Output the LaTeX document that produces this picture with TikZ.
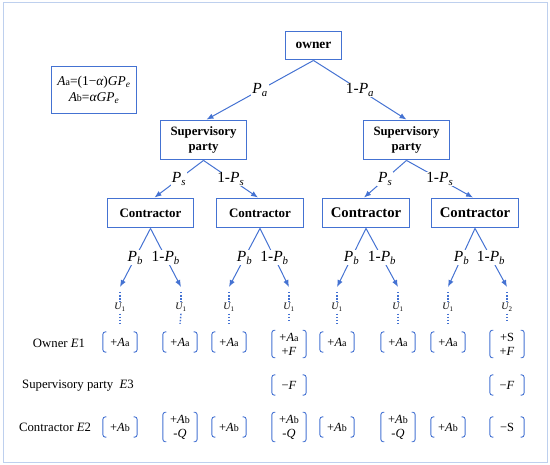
\documentclass[tikz,border=0pt]{standalone}
\usepackage{fontspec}
\setmainfont{Liberation Serif}
\usetikzlibrary{arrows.meta}
\definecolor{lineblue}{RGB}{68,114,210}
\definecolor{frameblue}{RGB}{190,208,238}
\tikzset{
 box/.style={draw=lineblue, line width=1pt, fill=white, inner sep=0pt, align=center, font=\bfseries\fontsize{12.8}{15}\selectfont},
 arr/.style={draw=lineblue, line width=1pt, -{Latex[length=7pt,width=5.5pt]}},
 lab/.style={fill=white, inner sep=1pt, font=\fontsize{15.5}{17}\selectfont},
 dots/.style={draw=lineblue, line width=1.4pt, dash pattern=on 1.5pt off 1.6pt},
 ulab/.style={font=\fontsize{10}{11}\selectfont, inner sep=0.5pt},
 vec/.style={inner xsep=2pt, inner ysep=2.5pt, minimum width=34pt, minimum height=20pt, align=center, font=\fontsize{12.5}{14}\selectfont},
 brk/.style={draw=lineblue, line width=0.9pt, rounded corners=2.5pt},
 rowlab/.style={font=\fontsize{12.8}{14}\selectfont},
}
\newcommand\Pl[1]{{\itshape P\textsubscript{#1}}}
\newcommand\Asub[1]{{\itshape A}{\fontsize{10}{11}\selectfont #1}}
\newcommand\vecnode[4]{%
 \node[vec] (#1) at (#2,#3) {#4};
 \draw[brk] ([xshift=3.5pt]#1.north west) -- (#1.north west) -- (#1.south west) -- ([xshift=3.5pt]#1.south west);
 \draw[brk] ([xshift=-3.5pt]#1.north east) -- (#1.north east) -- (#1.south east) -- ([xshift=-3.5pt]#1.south east);
}
\begin{document}
\begin{tikzpicture}[x=1bp,y=-1bp]
\useasboundingbox (0,0) rectangle (550,465);
\draw[frameblue, line width=1pt] (3,3) rectangle (547,462);

% info box
\node[box, minimum width=86pt, minimum height=48pt, font=\fontsize{13.5}{16}\selectfont] (info) at (94,90)
 {\Asub{a}=(1−{\itshape α}){\itshape GP}\textsubscript{\itshape e}\\ \Asub{b}={\itshape αGP}\textsubscript{\itshape e}};

% tree nodes
\node[box, minimum width=57pt, minimum height=29pt, font=\bfseries\fontsize{13.5}{15}\selectfont] (owner) at (313.5,45.5) {owner};
\node[box, minimum width=87pt, minimum height=40pt] (s1) at (203.5,140) {Supervisory\\party};
\node[box, minimum width=87pt, minimum height=40pt] (s2) at (406.5,140) {Supervisory\\party};
\node[box, minimum width=87pt, minimum height=30pt, font=\bfseries\fontsize{13}{14}\selectfont] (c1) at (150.5,213) {Contractor};
\node[box, minimum width=87pt, minimum height=30pt, font=\bfseries\fontsize{13}{14}\selectfont] (c2) at (260,213) {Contractor};
\node[box, minimum width=87pt, minimum height=30pt, font=\bfseries\fontsize{14.8}{16}\selectfont] (c3) at (366,213) {Contractor};
\node[box, minimum width=87pt, minimum height=30pt, font=\bfseries\fontsize{14.8}{16}\selectfont] (c4) at (475,213) {Contractor};

\draw[arr] (owner.south) -- node[lab]{\Pl{a}} ([xshift=3pt]s1.north);
\draw[arr] (owner.south) -- node[lab]{1-\Pl{a}} (s2.north);
\draw[arr] (s1.south) -- node[lab]{\Pl{s}} ([xshift=4pt]c1.north);
\draw[arr] (s1.south) -- node[lab]{1-\Pl{s}} ([xshift=-2pt]c2.north);
\draw[arr] (s2.south) -- node[lab]{\Pl{s}} ([xshift=-2pt]c3.north);
\draw[arr] (s2.south) -- node[lab]{1-\Pl{s}} ([xshift=-2pt]c4.north);

% leaf tips
\coordinate (t1) at (120,287);
\coordinate (t2) at (181,287);
\coordinate (t3) at (229,287);
\coordinate (t4) at (289,287);
\coordinate (t5) at (337,287);
\coordinate (t6) at (398,287);
\coordinate (t7) at (448,287);
\coordinate (t8) at (507,287);

\draw[arr] (c1.south) -- node[lab]{\Pl{b}} (t1);
\draw[arr] (c1.south) -- node[lab]{1-\Pl{b}} (t2);
\draw[arr] (c2.south) -- node[lab]{\Pl{b}} (t3);
\draw[arr] (c2.south) -- node[lab]{1-\Pl{b}} (t4);
\draw[arr] (c3.south) -- node[lab]{\Pl{b}} (t5);
\draw[arr] (c3.south) -- node[lab]{1-\Pl{b}} (t6);
\draw[arr] (c4.south) -- node[lab]{\Pl{b}} (t7);
\draw[arr] (c4.south) -- node[lab]{1-\Pl{b}} (t8);

% U labels
\node[ulab] (u1) at (120,307) {{\itshape U}\textsubscript{1}};
\node[ulab] (u2) at (181,307) {{\itshape U}\textsubscript{1}};
\node[ulab] (u3) at (229,307) {{\itshape U}\textsubscript{1}};
\node[ulab] (u4) at (289,307) {{\itshape U}\textsubscript{1}};
\node[ulab] (u5) at (337,307) {{\itshape U}\textsubscript{1}};
\node[ulab] (u6) at (398,307) {{\itshape U}\textsubscript{1}};
\node[ulab] (u7) at (448,307) {{\itshape U}\textsubscript{1}};
\node[ulab] (u8) at (507,307) {{\itshape U}\textsubscript{2}};

% row labels
\node[rowlab] (r1) at (59,343) {Owner {\itshape E}1};
\node[rowlab] (r3) at (78,386) {Supervisory party \ {\itshape E}3};
\node[rowlab] (r2) at (55,427) {Contractor {\itshape E}2};

% owner row
\vecnode{o1}{120}{342}{+\Asub{a}}
\vecnode{o2}{180}{342}{+\Asub{a}}
\vecnode{o3}{229}{342}{+\Asub{a}}
\vecnode{o4}{289}{344}{+\Asub{a}\\+{\itshape F}}
\vecnode{o5}{337}{342}{+\Asub{a}}
\vecnode{o6}{398}{342}{+\Asub{a}}
\vecnode{o7}{448}{342}{+\Asub{a}}
\vecnode{o8}{507}{344}{+S\\+{\itshape F}}

% supervisory row
\vecnode{p4}{289}{385}{−{\itshape F}}
\vecnode{p8}{507}{385}{−{\itshape F}}

% contractor row
\vecnode{k1}{120}{427}{+\Asub{b}}
\vecnode{k2}{180}{427}{+\Asub{b}\\-{\itshape Q}}
\vecnode{k3}{229}{427}{+\Asub{b}}
\vecnode{k4}{289}{427}{+\Asub{b}\\-{\itshape Q}}
\vecnode{k5}{337}{427}{+\Asub{b}}
\vecnode{k6}{398}{427}{+\Asub{b}\\-{\itshape Q}}
\vecnode{k7}{448}{427}{+\Asub{b}}
\vecnode{k8}{507}{427}{−S}

% dotted links
\foreach \i in {1,...,8}{
 \draw[dots] ([yshift=-5pt]t\i) -- (u\i.north);
 \draw[dots] ([yshift=-2pt]u\i.south) -- ([yshift=8pt]o\i.north);
}
\end{tikzpicture}
\end{document}
